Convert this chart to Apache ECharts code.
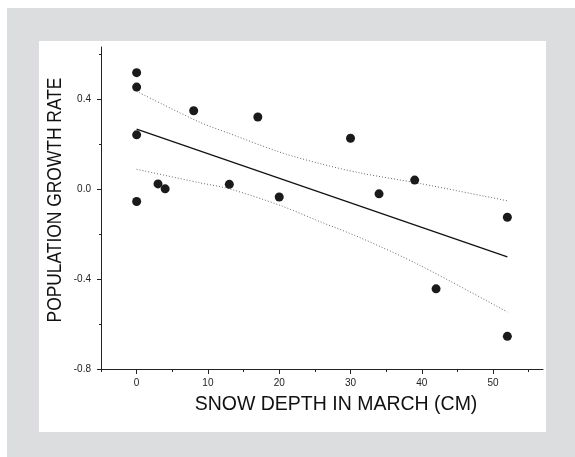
<!DOCTYPE html>
<html>
<head>
<meta charset="utf-8">
<script src="https://cdn.jsdelivr.net/npm/echarts@6/dist/echarts.min.js"></script>
<style>
html,body{margin:0;padding:0;background:#ffffff;}
#outer{position:absolute;left:7px;top:8px;width:568px;height:449px;background:#dcdddf;}
#panel{position:absolute;left:39px;top:41px;width:507px;height:391px;background:#ffffff;}
#chart{position:absolute;left:0;top:0;width:575px;height:457px;}
</style>
</head>
<body>
<div id="outer"></div>
<div id="panel"></div>
<div id="chart"></div>
<script>
// Observed data
const snowDepth = [0, 0, 0, 0, 3, 4, 8, 13, 17, 20, 30, 34, 39, 42, 52, 52];
const growthRate = [0.516, 0.452, 0.24, -0.056, 0.022, 0.0, 0.347, 0.02, 0.319, -0.036, 0.225, -0.022, 0.039, -0.444, -0.126, -0.655];

// Fitted regression line
const fitX = [0, 52];
const fitY = [0.265, -0.302];

// Confidence band
const ciX = [0, 8.7, 13, 20, 25.6, 31.3, 39.7, 52];
const ciUpper = [0.433, 0.298, 0.246, 0.164, 0.113, 0.071, 0.024, -0.053];
const ciLower = [0.087, 0.028, 0.0, -0.072, -0.144, -0.216, -0.339, -0.547];

// Axis ticks
const xMajorTicks = [0, 10, 20, 30, 40, 50];
const xMinorTicks = [-5, 5, 15, 25, 35, 45, 55];
const yMajorTicks = [-0.8, -0.4, 0.0, 0.4];
const yMinorTicks = [-0.6, -0.2, 0.2, 0.6];

const xTitle = 'SNOW DEPTH IN MARCH (CM)';
const yTitle = 'POPULATION GROWTH RATE';

const zip = (a, b) => a.map((v, i) => [v, b[i]]);

const chart = echarts.init(document.getElementById('chart'), null, {renderer: 'canvas'});
const FONT = '"Liberation Sans", Arial, Helvetica, sans-serif';
const axisCol = '#222222';
const grid = {left: 101, top: 47, right: 32, bottom: 88};
const xRange = {min: -5, max: 57};
const yRange = {min: -0.8, max: 0.63};

chart.setOption({
  backgroundColor: 'transparent',
  animation: false,
  grid: grid,
  xAxis: [
    {
      type: 'value', min: xRange.min, max: xRange.max, position: 'bottom',
      axisLine: {show: true, onZero: false, lineStyle: {color: axisCol, width: 1}},
      axisTick: {show: true, inside: false, length: 5, customValues: xMajorTicks, lineStyle: {color: axisCol}},
      axisLabel: {show: true, customValues: xMajorTicks, margin: 9, fontSize: 10, color: '#222', fontFamily: FONT,
        formatter: v => String(v)},
      splitLine: {show: false}
    },
    {
      type: 'value', min: xRange.min, max: xRange.max, position: 'bottom',
      axisLine: {show: false, onZero: false},
      axisTick: {show: true, inside: false, length: 3, customValues: xMinorTicks, lineStyle: {color: axisCol}},
      axisLabel: {show: false},
      splitLine: {show: false}
    }
  ],
  yAxis: [
    {
      type: 'value', min: yRange.min, max: yRange.max, position: 'left',
      axisLine: {show: true, onZero: false, lineStyle: {color: axisCol, width: 1}},
      axisTick: {show: true, inside: false, length: 4, customValues: yMajorTicks, lineStyle: {color: axisCol}},
      axisLabel: {show: true, customValues: yMajorTicks, margin: 10, fontSize: 10, color: '#222', fontFamily: FONT,
        formatter: v => v.toFixed(1)},
      splitLine: {show: false}
    },
    {
      type: 'value', min: yRange.min, max: yRange.max, position: 'left',
      axisLine: {show: false, onZero: false},
      axisTick: {show: true, inside: false, length: 2, customValues: yMinorTicks, lineStyle: {color: axisCol}},
      axisLabel: {show: false},
      splitLine: {show: false}
    }
  ],
  graphic: [
    {
      type: 'text', x: 336, y: 405,
      style: {text: xTitle, fontSize: 19.5, fontFamily: FONT, fill: '#111111', align: 'center', verticalAlign: 'middle'}
    },
    {
      type: 'text', x: 55.5, y: 200, rotation: Math.PI / 2, scaleX: 0.87,
      style: {text: yTitle, fontSize: 20, fontFamily: FONT, fill: '#111111', align: 'center', verticalAlign: 'middle'}
    }
  ],
  series: [
    {
      type: 'line', xAxisIndex: 0, yAxisIndex: 0, data: zip(ciX, ciUpper), smooth: 0.3,
      symbol: 'none', lineStyle: {color: '#666666', width: 1, type: [1, 2]}, z: 2
    },
    {
      type: 'line', xAxisIndex: 0, yAxisIndex: 0, data: zip(ciX, ciLower), smooth: 0.3,
      symbol: 'none', lineStyle: {color: '#666666', width: 1, type: [1, 2]}, z: 2
    },
    {
      type: 'line', xAxisIndex: 0, yAxisIndex: 0, data: zip(fitX, fitY),
      symbol: 'none', lineStyle: {color: '#111111', width: 1.2}, z: 3
    },
    {
      type: 'scatter', xAxisIndex: 0, yAxisIndex: 0, data: zip(snowDepth, growthRate),
      symbol: 'circle', symbolSize: 9, itemStyle: {color: '#1a1a1a', opacity: 1}, z: 4
    }
  ]
});
</script>
</body>
</html>
